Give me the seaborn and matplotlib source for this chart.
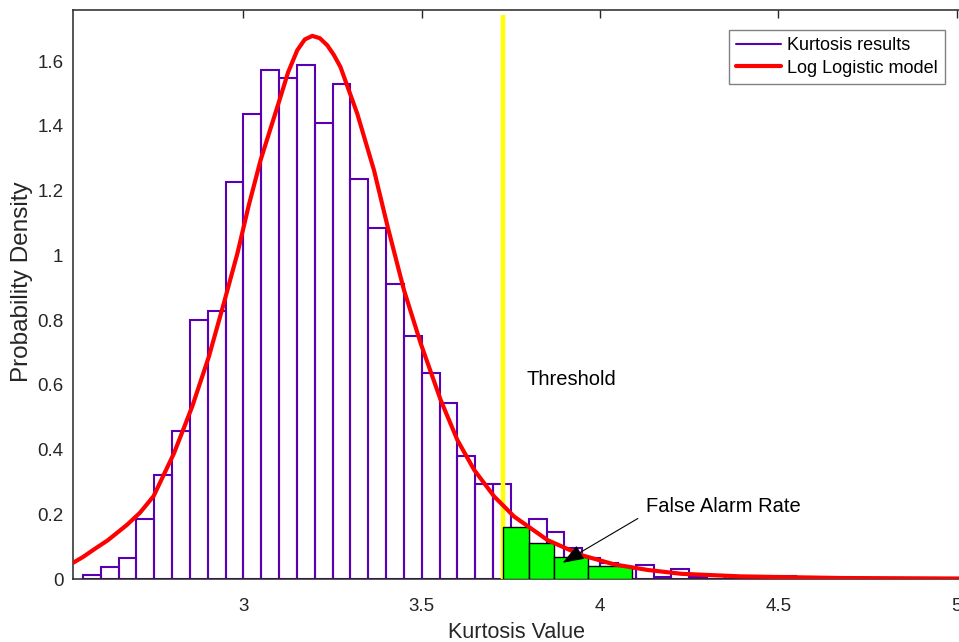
import numpy as np
import pandas as pd
import matplotlib
matplotlib.use("Agg")
import matplotlib.pyplot as plt
from matplotlib.lines import Line2D
import seaborn as sns

# ---------------- data ----------------
bin_width = 0.05
bin_left = [2.55, 2.60, 2.65, 2.70, 2.75, 2.80, 2.85, 2.90, 2.95, 3.00,
            3.05, 3.10, 3.15, 3.20, 3.25, 3.30, 3.35, 3.40, 3.45, 3.50,
            3.55, 3.60, 3.65, 3.70, 3.75, 3.80, 3.85, 3.90, 3.95, 4.00,
            4.05, 4.10, 4.15, 4.20, 4.25, 4.30, 4.35, 4.40, 4.45, 4.50]
density = [0.012, 0.036, 0.064, 0.184, 0.320, 0.457, 0.800, 0.828, 1.226, 1.436,
           1.572, 1.548, 1.589, 1.408, 1.529, 1.236, 1.083, 0.911, 0.752, 0.637,
           0.544, 0.381, 0.292, 0.292, 0.150, 0.184, 0.144, 0.097, 0.064, 0.048,
           0.038, 0.043, 0.006, 0.032, 0.006, 0.008, 0.000, 0.008, 0.000, 0.008]

far_edges = [3.727, 3.80, 3.87, 3.965, 4.09]
far_heights = [0.160, 0.110, 0.067, 0.040]

curve_x = [2.522, 2.550, 2.579, 2.620, 2.673, 2.710, 2.748, 2.805, 2.856, 2.903,
           2.945, 2.983, 3.015, 3.048, 3.104, 3.125, 3.151, 3.172, 3.193, 3.214,
           3.235, 3.253, 3.272, 3.319, 3.366, 3.404, 3.450, 3.497, 3.553, 3.600,
           3.647, 3.703, 3.759, 3.853, 3.947, 4.040, 4.133, 4.228, 4.396, 4.677,
           5.007]
curve_y = [0.050, 0.068, 0.090, 0.120, 0.167, 0.205, 0.256, 0.388, 0.532, 0.687,
           0.852, 1.006, 1.155, 1.294, 1.490, 1.565, 1.634, 1.667, 1.678, 1.671,
           1.649, 1.620, 1.582, 1.438, 1.263, 1.090, 0.893, 0.728, 0.553, 0.429,
           0.337, 0.255, 0.193, 0.120, 0.074, 0.045, 0.028, 0.016, 0.008, 0.003,
           0.0015]

threshold = 3.727
threshold_top = 1.742

x_ticks = [3, 3.5, 4, 4.5, 5]
x_tick_labels = ["3", "3.5", "4", "4.5", "5"]
y_ticks = [0, 0.2, 0.4, 0.6, 0.8, 1.0, 1.2, 1.4, 1.6]
y_tick_labels = ["0", "0.2", "0.4", "0.6", "0.8", "1", "1.2", "1.4", "1.6"]

# ---------------- style ----------------
sns.set_style("white")
plt.rcParams["font.family"] = ["Liberation Sans", "DejaVu Sans"]

purple = "#5A00B4"
ink = "#262626"
edges = list(np.round(np.array(bin_left + [bin_left[-1] + bin_width]), 3))
centers = [b + bin_width / 2 for b in bin_left]
far_centers = [(a + b) / 2 for a, b in zip(far_edges[:-1], far_edges[1:])]

fig = plt.figure(figsize=(9.59, 6.42), dpi=100)
ax = fig.add_axes([73 / 959, 63 / 642, 886 / 959, 569 / 642])

hist_df = pd.DataFrame({"x": centers, "w": density})
sns.histplot(data=hist_df, x="x", weights="w", bins=edges, stat="count",
             fill=False, element="bars", color=purple, linewidth=1.5, ax=ax,
             zorder=2)

ax.plot([threshold, threshold], [0, threshold_top], color="#FFFF00", lw=3.2,
        zorder=3, solid_capstyle="butt")

far_df = pd.DataFrame({"x": far_centers, "w": far_heights})
sns.histplot(data=far_df, x="x", weights="w", bins=far_edges, stat="count",
             fill=True, element="bars", color="#00FF00", edgecolor="black",
             alpha=1.0, linewidth=1.0, ax=ax, zorder=4)

curve_df = pd.DataFrame({"x": curve_x, "y": curve_y})
sns.lineplot(data=curve_df, x="x", y="y", color="#FF0000", linewidth=3.0,
             ax=ax, zorder=5)

ax.text(3.794, 0.615, "Threshold", fontsize=14.5, va="center", ha="left",
        color="black")
ax.text(4.129, 0.223, "False Alarm Rate", fontsize=14.5, va="center",
        ha="left", color="black")
ax.annotate("", xy=(3.895, 0.05), xytext=(4.106, 0.187),
            arrowprops=dict(arrowstyle="-|>,head_length=1.1,head_width=0.4",
                            color="black", lw=0.8, shrinkA=0, shrinkB=0),
            fontsize=12, zorder=6)

ax.set_xlim(2.522, 5.0065)
ax.set_ylim(0, 1.758)
ax.set_xticks(x_ticks)
ax.set_xticklabels(x_tick_labels)
ax.set_yticks(y_ticks)
ax.set_yticklabels(y_tick_labels)
ax.tick_params(direction="in", length=6, width=1.0, labelsize=13.5,
               colors=ink, top=True, right=False)
ax.tick_params(axis="x", pad=14)
ax.tick_params(axis="y", pad=7)
ax.set_xlabel("Kurtosis Value", fontsize=15.5, color=ink)
ax.set_ylabel("Probability Density", fontsize=17.5, color=ink)
ax.xaxis.set_label_coords(0.5, -0.075)
ax.yaxis.set_label_coords(-0.045, 0.523)

for side in ["left", "bottom", "top"]:
    ax.spines[side].set_visible(True)
    ax.spines[side].set_color(ink)
    ax.spines[side].set_linewidth(1.1)
ax.spines["right"].set_visible(False)

handles = [Line2D([0], [0], color=purple, lw=1.5),
           Line2D([0], [0], color="#FF0000", lw=3.0)]
leg = ax.legend(handles, ["Kurtosis results", "Log Logistic model"],
                loc="upper right", bbox_to_anchor=(0.984, 0.965),
                fontsize=13, frameon=True, fancybox=False, framealpha=1,
                edgecolor="#808080", borderpad=0.4, labelspacing=0.3,
                handlelength=2.5, handletextpad=0.3, borderaxespad=0)
leg.get_frame().set_linewidth(1.0)
for t in leg.get_texts():
    t.set_color("black")

fig.savefig("out.png", dpi=100)
